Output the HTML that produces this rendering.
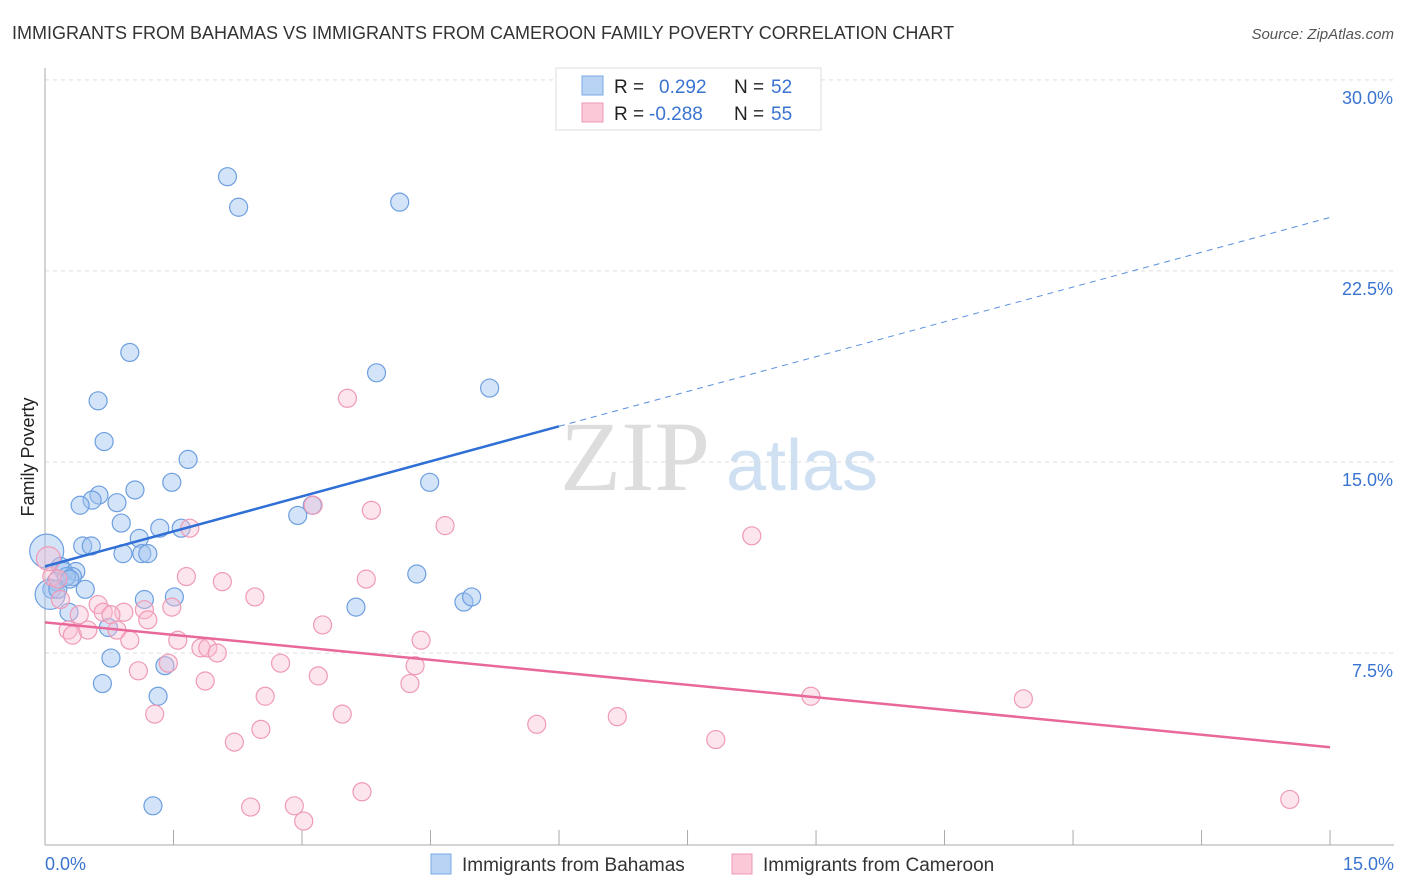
<!DOCTYPE html>
<html><head><meta charset="utf-8"><style>
body{margin:0;background:#fff;font-family:"Liberation Sans",sans-serif;}
#wrap{position:relative;width:1406px;height:892px;overflow:hidden;}
</style></head><body>
<div id="wrap">
<svg id="chart" width="1406" height="892" style="font-family:'Liberation Sans',sans-serif">
<text x="12" y="39" font-size="18" fill="#333">IMMIGRANTS FROM BAHAMAS VS IMMIGRANTS FROM CAMEROON FAMILY POVERTY CORRELATION CHART</text>
<text x="1394" y="39" font-size="15" fill="#555" font-style="italic" text-anchor="end">Source: ZipAtlas.com</text>
<text x="34" y="457" font-size="18" fill="#222" text-anchor="middle" transform="rotate(-90 34 457)">Family Poverty</text>
<g><text x="635" y="490" font-size="100" fill="#ddd" font-family="'Liberation Serif',serif" text-anchor="middle">ZIP</text><text x="802" y="490" font-size="72" fill="#cfe0f3" text-anchor="middle">atlas</text></g>
<g id="grid"></g><g id="axes"></g><g id="pts"></g><g id="lines"></g>
<g>
<rect x="556" y="68" width="265" height="62" fill="#fff" stroke="#ddd"/>
<rect x="582" y="76" width="21" height="19" fill="#b9d3f5" stroke="#7aa8e6"/>
<rect x="582" y="103" width="21" height="19" fill="#fbc8d8" stroke="#ee9ab5"/>
<text x="614" y="93" font-size="19" fill="#222">R = </text><text x="659" y="93" font-size="19" fill="#3a74d0">0.292</text>
<text x="734" y="93" font-size="19" fill="#222">N = </text><text x="771" y="93" font-size="19" fill="#3a74d0">52</text>
<text x="614" y="120" font-size="19" fill="#222">R = </text><text x="649" y="120" font-size="19" fill="#3a74d0">-0.288</text>
<text x="734" y="120" font-size="19" fill="#222">N = </text><text x="771" y="120" font-size="19" fill="#3a74d0">55</text>
</g>
<g>
<rect x="431" y="854" width="20" height="20" fill="#b9d3f5" stroke="#7aa8e6"/>
<text x="462" y="871" font-size="19" fill="#333">Immigrants from Bahamas</text>
<rect x="732" y="854" width="20" height="20" fill="#fbc8d8" stroke="#ee9ab5"/>
<text x="763" y="871" font-size="19" fill="#333">Immigrants from Cameroon</text>
</g>
</svg></div>
<script>
const yTicks=[7.5,15,22.5,30];
const yTickLabels=["7.5%","15.0%","22.5%","30.0%"];
const xTickLabels=["0.0%","15.0%"];
const bahamasX=[2.13,2.26,4.14,0.99,3.87,5.19,0.62,0.69,1.67,4.49,1.48,1.05,0.63,0.55,0.41,0.84,3.12,2.95,0.89,1.34,1.59,1.10,0.44,0.54,0.91,1.13,1.20,0.02,0.18,0.22,0.36,0.32,0.13,0.08,0.47,1.16,1.51,3.63,4.89,4.98,4.34,0.28,0.74,0.77,1.40,0.67,1.32,1.26,0.06,0.25,0.15,0.29];
const bahamasY=[26.2,25.0,25.2,19.3,18.5,17.9,17.4,15.8,15.1,14.2,14.2,13.9,13.7,13.5,13.3,13.4,13.3,12.9,12.6,12.4,12.4,12.0,11.7,11.7,11.4,11.4,11.4,11.5,10.9,10.7,10.7,10.5,10.3,10.0,10.0,9.6,9.7,9.3,9.5,9.7,10.6,9.1,8.5,7.3,7.0,6.3,5.8,1.5,9.8,10.5,10.0,10.4];
const bahamasR=[9,9,9,9,9,9,9,9,9,9,9,9,9,9,9,9,9,9,9,9,9,9,9,9,9,9,9,17,9,9,9,9,9,9,9,9,9,9,9,9,9,9,9,9,9,9,9,9,15,9,9,9];
const cameroonX=[3.53,3.13,3.81,4.67,8.25,1.69,1.65,2.07,3.75,2.45,0.08,0.15,0.18,0.62,0.68,0.92,1.16,1.48,0.77,1.20,0.40,0.27,0.32,0.50,0.84,3.24,4.39,0.99,1.55,1.82,1.90,2.01,2.75,4.32,1.44,1.09,3.19,1.87,4.26,2.57,8.94,11.42,1.28,3.47,5.74,6.68,2.52,2.21,7.83,2.40,2.91,3.70,3.02,14.53,0.04];
const cameroonY=[17.5,13.3,13.1,12.5,12.1,12.4,10.5,10.3,10.4,9.7,10.5,10.4,9.6,9.4,9.1,9.1,9.2,9.3,9.0,8.8,9.0,8.4,8.2,8.4,8.4,8.6,8.0,8.0,8.0,7.7,7.7,7.5,7.1,7.0,7.1,6.8,6.6,6.4,6.3,5.8,5.8,5.7,5.1,5.1,4.7,5.0,4.5,4.0,4.1,1.45,1.5,2.05,0.9,1.75,11.2];
const cameroonR=[9,9,9,9,9,9,9,9,9,9,9,9,9,9,9,9,9,9,9,9,9,9,9,9,9,9,9,9,9,9,9,9,9,9,9,9,9,9,9,9,9,9,9,9,9,9,9,9,9,9,9,9,9,9,12];
const bahamasTrend=[[0,10.9],[6.0,16.4],[15,24.6]];
const cameroonTrend=[[0,8.7],[15,3.8]];
const NS="http://www.w3.org/2000/svg";
const xS=v=>45+v*85.67, yS=v=>844-v*25.47;
function mk(t,a,p){const e=document.createElementNS(NS,t);for(const k in a)e.setAttribute(k,a[k]);p.appendChild(e);return e;}
const grid=document.getElementById('grid'),axes=document.getElementById('axes');
yTicks.forEach((t,i)=>{
 const l=mk('line',{x1:45,x2:1394,y1:yS(t),y2:yS(t),stroke:'#ddd','stroke-dasharray':'4,4'},grid);
 
 
 const tx=mk('text',{x:1393,y:yS(t)+24,'font-size':18,fill:'#3a74d0','text-anchor':'end'},axes);
 tx.textContent=yTickLabels[i];
 
 
});
const ax=mk('line',{x1:45,x2:45,y1:68,y2:845,stroke:'#aaa'},axes);


const bx=mk('line',{x1:45,x2:1394,y1:845,y2:845,stroke:'#aaa'},axes);


for(let i=0;i<=10;i++){const v=i*1.5;const t=mk('line',{x1:xS(v),x2:xS(v),y1:830,y2:845,stroke:'#aaa'},axes);
 
 }
[[0,'start',45],[15,'end',1394]].forEach((d,i)=>{const t=mk('text',{x:d[2],y:870,'font-size':18,fill:'#3a74d0','text-anchor':d[1]},axes);t.textContent=xTickLabels[i];
 
 });
const pts=document.getElementById('pts');
bahamasX.forEach((x,i)=>{const c=mk('circle',{cx:xS(x),cy:yS(bahamasY[i]),r:bahamasR[i],fill:'rgba(160,195,240,0.45)',stroke:'#6d9fe0','stroke-width':1.2},pts);
 
 });
cameroonX.forEach((x,i)=>{const c=mk('circle',{cx:xS(x),cy:yS(cameroonY[i]),r:cameroonR[i],fill:'rgba(250,190,210,0.4)',stroke:'#ef9ab6','stroke-width':1.2},pts);
 
 });
const lines=document.getElementById('lines');
const b=bahamasTrend;
const l1=mk('line',{x1:xS(b[0][0]),y1:yS(b[0][1]),x2:xS(b[1][0]),y2:yS(b[1][1]),stroke:'#2f6fd6','stroke-width':2.5},lines);


const l2=mk('line',{x1:xS(b[1][0]),y1:yS(b[1][1]),x2:xS(b[2][0]),y2:yS(b[2][1]),stroke:'#5a8fe0','stroke-width':1,'stroke-dasharray':'6,5'},lines);


const c=cameroonTrend;
const l3=mk('line',{x1:xS(c[0][0]),y1:yS(c[0][1]),x2:xS(c[1][0]),y2:yS(c[1][1]),stroke:'#e8689a','stroke-width':2.5},lines);


</script>
</body></html>
